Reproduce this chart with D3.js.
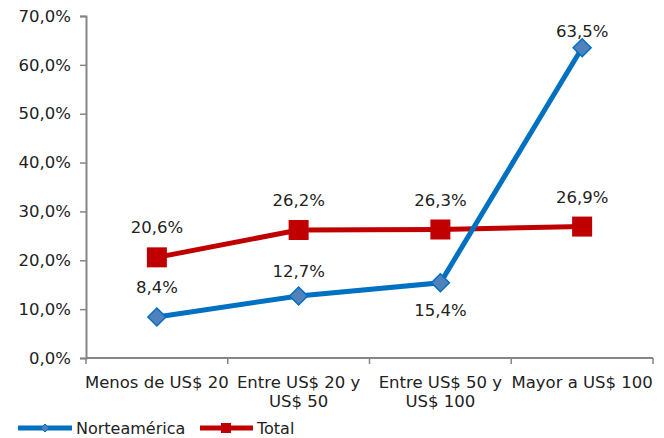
<!DOCTYPE html>
<html><head><meta charset="utf-8">
<script src="https://cdn.jsdelivr.net/npm/d3@7"></script>
<style>body{margin:0;background:#fff}svg{display:block}text{font-family:"DejaVu Sans",Verdana,sans-serif;fill:#222}</style>
</head><body>
<svg id="c" width="664" height="438"></svg>
<script>
const categories = [["Menos de US$ 20"], ["Entre US$ 20 y", "US$ 50"], ["Entre US$ 50 y", "US$ 100"], ["Mayor a US$ 100"]];
const norteamerica = [8.4, 12.7, 15.4, 63.5];
const total = [20.6, 26.2, 26.3, 26.9];
const yTicks = [0, 10, 20, 30, 40, 50, 60, 70];
const seriesNames = ["Norteamérica", "Total"];

const FS = 16.5;
const svg = d3.select("#c");
const x = d3.scaleBand().domain(d3.range(categories.length)).range([86, 653]);
const y = d3.scaleLinear().domain([0, 70]).range([358, 16]);
const fmt = v => v.toFixed(1).replace(".", ",") + "%";
const axisCol = "#868686";

// y axis
const ya = svg.append("g").attr("transform", "translate(86,0)")
  .call(d3.axisLeft(y).tickValues(yTicks).tickFormat(fmt).tickSize(6).tickPadding(9));
ya.select(".domain").attr("stroke", axisCol).attr("stroke-width", 2);
ya.selectAll(".tick line").attr("stroke", axisCol).attr("stroke-width", 1.5);
ya.selectAll(".tick text").attr("font-size", FS).attr("font-family", "DejaVu Sans").attr("fill", "#222");

// x axis
const xa = svg.append("g").attr("transform", "translate(0,358)");
xa.append("line").attr("x1", 86).attr("x2", 653).attr("stroke", axisCol).attr("stroke-width", 2);
const bounds = d3.range(categories.length + 1).map(i => i < categories.length ? x(i) : x(i - 1) + x.bandwidth());
xa.selectAll(".xt").data(bounds).join("line").attr("x1", d => d).attr("x2", d => d).attr("y1", 0).attr("y2", 6)
  .attr("stroke", axisCol).attr("stroke-width", 1.5);
categories.forEach((lines, i) => {
  lines.forEach((t, j) => {
    xa.append("text").attr("x", x(i) + x.bandwidth() / 2).attr("y", 30 + j * 19)
      .attr("text-anchor", "middle").attr("font-size", FS).text(t);
  });
});

const cx = i => x(i) + x.bandwidth() / 2;
const line = d3.line().x((d, i) => cx(i)).y(d => y(d));

const blue = "#0070C0", blueFill = "#4F81BD", red = "#C00000";

// Total
svg.append("path").attr("d", line(total)).attr("fill", "none").attr("stroke", red).attr("stroke-width", 5);
svg.selectAll(".sq").data(total).join("rect")
  .attr("x", (d, i) => cx(i) - 10).attr("y", d => y(d) - 10).attr("width", 20).attr("height", 20).attr("fill", red);

// Norteamerica
svg.append("path").attr("d", line(norteamerica)).attr("fill", "none").attr("stroke", blue).attr("stroke-width", 5);
svg.selectAll(".dm").data(norteamerica).join("path")
  .attr("d", (d, i) => { const px = cx(i), py = y(d), r = 9; return `M${px},${py - r}L${px + r},${py}L${px},${py + r}L${px - r},${py}Z`; })
  .attr("fill", blueFill).attr("stroke", blue).attr("stroke-width", 1.5);

// labels
total.forEach((d, i) => {
  svg.append("text").attr("x", cx(i)).attr("y", y(d) - 24).attr("text-anchor", "middle").attr("font-size", FS).text(fmt(d));
});
const nOff = [-24, -19, 33, -11];
norteamerica.forEach((d, i) => {
  svg.append("text").attr("x", cx(i)).attr("y", y(d) + nOff[i]).attr("text-anchor", "middle").attr("font-size", FS).text(fmt(d));
});

// legend
const lg = svg.append("g").attr("transform", "translate(0,428)");
lg.append("line").attr("x1", 18).attr("x2", 72).attr("stroke", blue).attr("stroke-width", 5);
lg.append("path").attr("d", "M45,-4L49,0L45,4L41,0Z").attr("fill", blueFill).attr("stroke", blue).attr("stroke-width", 1);
lg.append("text").attr("x", 76).attr("y", 6).attr("font-size", 16).text(seriesNames[0]);
lg.append("line").attr("x1", 200).attr("x2", 253).attr("stroke", red).attr("stroke-width", 5);
lg.append("rect").attr("x", 221).attr("y", -5).attr("width", 10).attr("height", 10).attr("fill", red);
lg.append("text").attr("x", 257).attr("y", 6).attr("font-size", 16).text(seriesNames[1]);
</script>
</body></html>
